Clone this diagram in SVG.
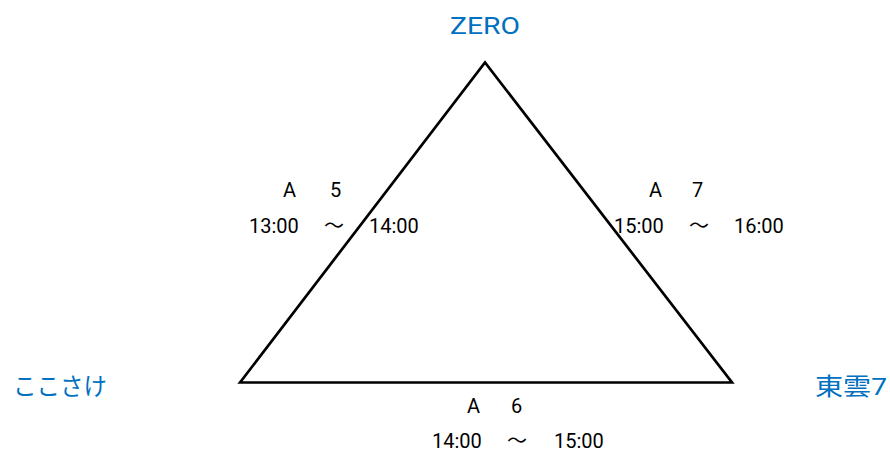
<svg xmlns="http://www.w3.org/2000/svg" width="890" height="459" viewBox="0 0 890 459">
<style>
.node{font-family:"Roboto","Noto Sans CJK JP",sans-serif;font-size:24px;fill:#0070C0}
.lbl{font-family:"Roboto","Noto Sans CJK JP",sans-serif;font-size:20px;fill:#000}
.edge{fill:none;stroke:#000;stroke-width:2.7;stroke-linejoin:miter}
</style>
<rect width="890" height="459" fill="#fff"/>
<g id="connectors">
<path class="edge" d="M240,382.5 L485,62.5 L732,382.5 Z"/>
</g>
<g id="node-zero"><text class="node" x="485" y="34" text-anchor="middle" textLength="70" lengthAdjust="spacingAndGlyphs">ZERO</text></g>
<g id="node-kokosake"><text class="node" x="13" y="395" textLength="94" lengthAdjust="spacingAndGlyphs">ここさけ</text></g>
<g id="node-shinonome"><text class="node" x="815" y="395" textLength="72" lengthAdjust="spacingAndGlyphs">東雲7</text></g>
<g id="label-a5">
<text class="lbl" x="283" y="197">A</text><text class="lbl" x="330" y="197">5</text>
<text class="lbl" x="249" y="233">13:00</text><text class="lbl" x="324" y="233">～</text><text class="lbl" x="369" y="233">14:00</text>
</g>
<g id="label-a7">
<text class="lbl" x="649" y="197">A</text><text class="lbl" x="692" y="197">7</text>
<text class="lbl" x="614" y="233">15:00</text><text class="lbl" x="689" y="233">～</text><text class="lbl" x="734" y="233">16:00</text>
</g>
<g id="label-a6">
<text class="lbl" x="467" y="413">A</text><text class="lbl" x="511" y="413">6</text>
<text class="lbl" x="432" y="448">14:00</text><text class="lbl" x="507" y="448">～</text><text class="lbl" x="554" y="448">15:00</text>
</g>
</svg>
